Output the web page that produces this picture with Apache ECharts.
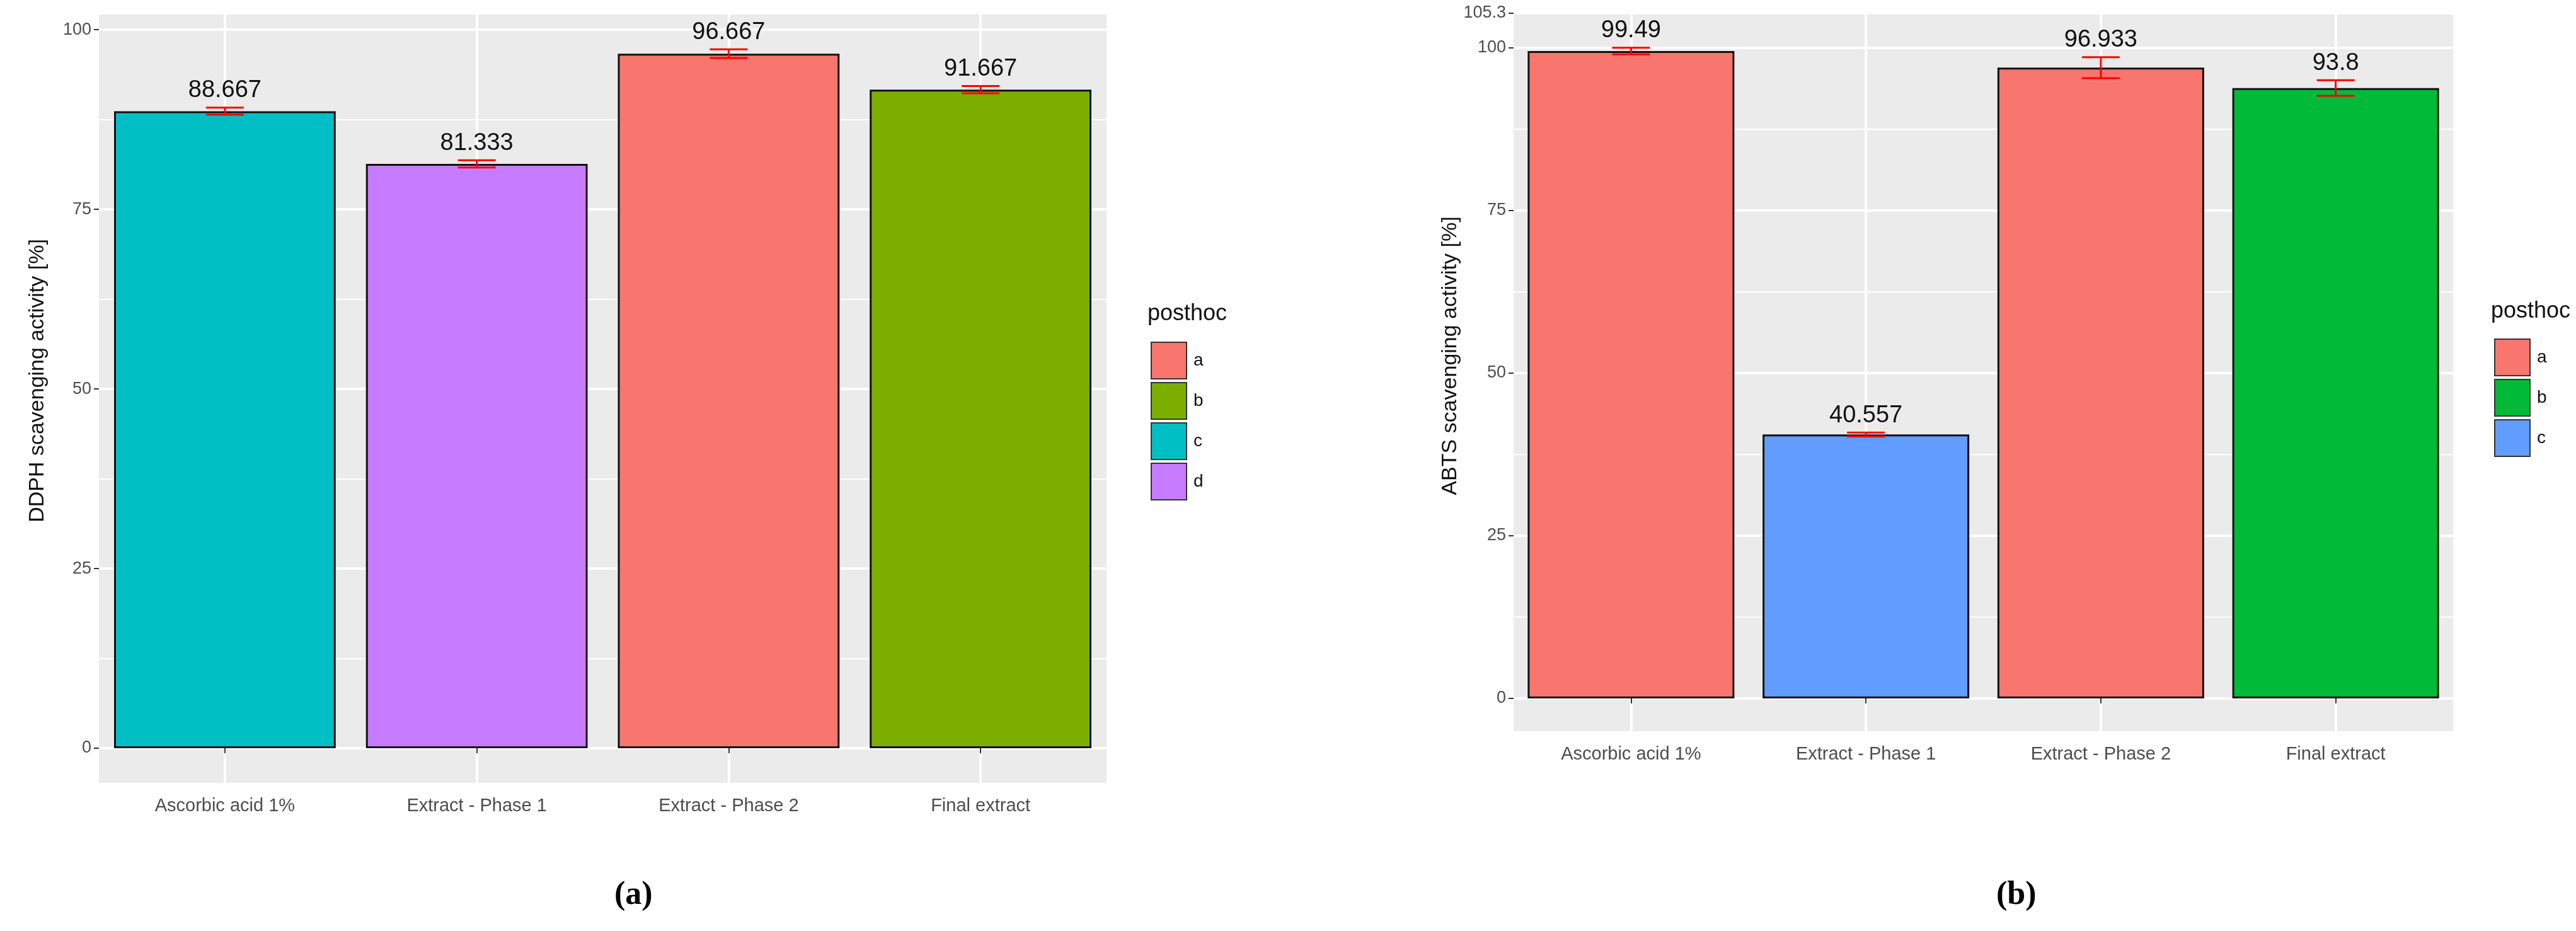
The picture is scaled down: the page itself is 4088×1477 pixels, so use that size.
<!DOCTYPE html>
<html><head><meta charset="utf-8">
<script src="https://cdn.jsdelivr.net/npm/echarts@6/dist/echarts.min.js"></script>
<style>html,body{margin:0;background:#fff}#c{width:4088px;height:1477px}</style>
</head><body><div id="c"></div>
<script>
// données
const categories = ['Ascorbic acid 1%', 'Extract - Phase 1', 'Extract - Phase 2', 'Final extract'];
const dpphValues = [88.667, 81.333, 96.667, 91.667];
const dpphErrors = [0.5, 0.5, 0.6, 0.5];
const dpphGroups = ['c', 'd', 'a', 'b'];
const abtsValues = [99.49, 40.557, 96.933, 93.8];
const abtsErrors = [0.5, 0.3, 1.6, 1.2];
const abtsGroups = ['a', 'c', 'a', 'b'];

const colorsA = { a: '#F8766D', b: '#7CAE00', c: '#00BFC4', d: '#C77CFF' };
const colorsB = { a: '#F8766D', b: '#00BA38', c: '#619CFF' };

const chart = echarts.init(document.getElementById('c'));
const font = 'Liberation Sans, Arial, sans-serif';

function panel(i, box, values, errors, groups, colors, yName) {
    const g0 = i * 2, g1 = i * 2 + 1;
    const grids = [
        { left: box.left, right: box.right, top: box.top, bottom: box.bgBottom, show: true, backgroundColor: '#EBEBEB', borderWidth: 0 },
        { left: box.left, right: box.right, top: box.top, bottom: box.bottom, show: false }
    ];
    const xAxes = [
        { gridIndex: g0, type: 'category', data: categories, axisLine: { show: false }, axisTick: { show: false }, axisLabel: { show: false },
          splitLine: { show: true, alignWithLabel: true, lineStyle: { color: '#fff', width: 4 } } },
        { gridIndex: g1, type: 'category', data: categories, offset: box.bgBottomGap, axisLine: { show: false },
          axisTick: { show: true, alignWithLabel: true, length: 8, lineStyle: { color: '#333', width: 2 } },
          axisLabel: { color: '#4D4D4D', fontSize: 29, fontFamily: font, margin: 22 } }
    ];
    const yAxes = [
        { gridIndex: g0, type: 'value', min: 0, max: 1, show: false, splitLine: { show: false } },
        { gridIndex: g1, type: 'value', min: 0, max: box.ymax, interval: 25, name: yName, nameLocation: 'middle',
          nameGap: 80, nameTextStyle: { fontSize: 34, fontFamily: font, color: '#111' },
          axisLine: { show: false }, axisTick: { show: true, length: 8, lineStyle: { color: '#333', width: 2 } },
          axisLabel: { color: '#4D4D4D', fontSize: 27, fontFamily: font, margin: 12 },
          splitLine: { lineStyle: { color: '#fff', width: 4 } },
          minorTick: { show: false, splitNumber: 2 }, minorSplitLine: { show: true, lineStyle: { color: '#fff', width: 2 } } }
    ];
    const series = [
        { type: 'bar', xAxisIndex: g1, yAxisIndex: g1, barWidth: '88%',
          data: values.map((v, k) => ({ value: v, itemStyle: { color: colors[groups[k]] } })),
          itemStyle: { borderColor: '#111', borderWidth: 3 }, z: 3 },
        { type: 'custom', xAxisIndex: g1, yAxisIndex: g1, z: 5,
          data: values.map((v, k) => [k, v - errors[k], v + errors[k], v]),
          renderItem: (params, api) => {
              const lo = api.coord([api.value(0), api.value(1)]);
              const hi = api.coord([api.value(0), api.value(2)]);
              const top = api.coord([api.value(0), api.value(3)]);
              const hw = 30, st = { stroke: '#F00', lineWidth: 3 };
              return { type: 'group', children: [
                  { type: 'line', shape: { x1: lo[0], y1: lo[1], x2: hi[0], y2: hi[1] }, style: st },
                  { type: 'line', shape: { x1: lo[0] - hw, y1: lo[1], x2: lo[0] + hw, y2: lo[1] }, style: st },
                  { type: 'line', shape: { x1: hi[0] - hw, y1: hi[1], x2: hi[0] + hw, y2: hi[1] }, style: st },
                  { type: 'text', x: top[0], y: Math.min(hi[1], top[1]) - 8,
                    style: { text: String(api.value(3)), fill: '#111', fontSize: 38, fontFamily: font, align: 'center', verticalAlign: 'bottom' } }
              ] };
          } }
    ];
    Object.keys(colors).forEach(k => series.push({ type: 'line', name: k + (i ? ' ' : ''), xAxisIndex: g1, yAxisIndex: g1, data: [],
        itemStyle: { color: colors[k], borderColor: '#333', borderWidth: 2 } }));
    const legend = { orient: 'vertical', left: box.legendLeft, top: box.legendTop, icon: 'rect', itemWidth: 56, itemHeight: 58, itemGap: 4,
        data: Object.keys(colors).map(k => k + (i ? ' ' : '')), selectedMode: false,
        textStyle: { fontSize: 28, fontFamily: font, color: '#111', padding: [0, 0, 0, 6] } };
    return { grids, xAxes, yAxes, series, legend };
}

const A = panel(0, { left: 157, right: 2332, top: 21, bgBottom: 235, bottom: 290, bgBottomGap: 55, ymax: 102.3, legendLeft: 1821, legendTop: 537 },
    dpphValues, dpphErrors, dpphGroups, colorsA, 'DDPH scavenging activity [%]');
const B = panel(1, { left: 2402, right: 195, top: 21, bgBottom: 317, bottom: 369, bgBottomGap: 52, ymax: 105.3, legendLeft: 3953, legendTop: 532 },
    abtsValues, abtsErrors, abtsGroups, colorsB, 'ABTS scavenging activity [%]');

const subTitle = (x, letter) => ({ type: 'text', left: x, top: 1395,
    style: { text: '(' + letter + ')', fontSize: 52, fontFamily: 'Liberation Serif, serif', fontWeight: 'bold', fill: '#000' } });

chart.setOption({
    animation: false,
    grid: [...A.grids, ...B.grids],
    xAxis: [...A.xAxes, ...B.xAxes],
    yAxis: [...A.yAxes, ...B.yAxes],
    series: [...A.series, ...B.series],
    legend: [A.legend, B.legend],
    graphic: [
        { type: 'text', left: 1821, top: 480, style: { text: 'posthoc', fontSize: 36, fontFamily: font, fill: '#111' } },
        { type: 'text', left: 3953, top: 476, style: { text: 'posthoc', fontSize: 36, fontFamily: font, fill: '#111' } },
        subTitle(975, 'a'), subTitle(3168, 'b')
    ]
});
</script></body></html>
